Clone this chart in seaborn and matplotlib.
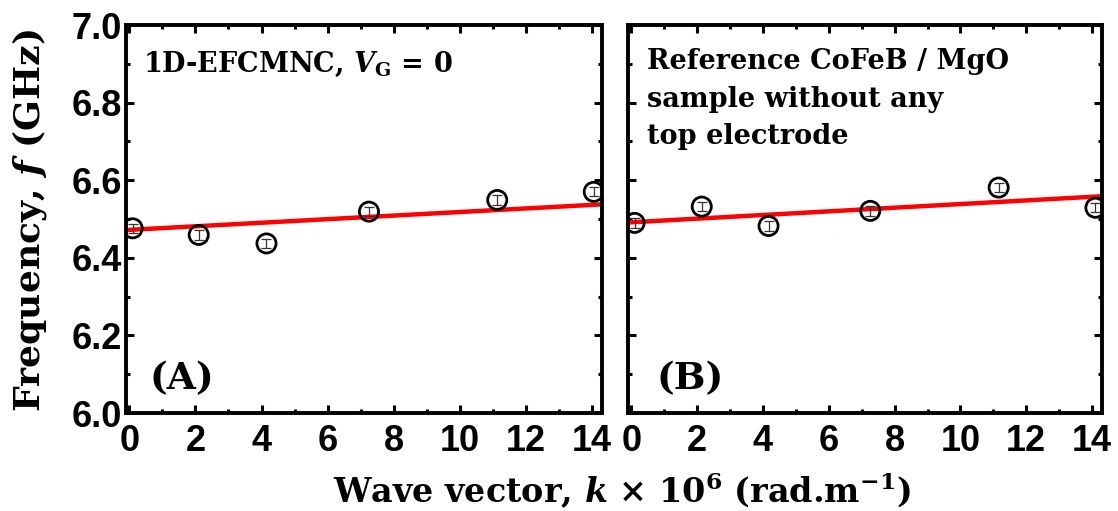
import numpy as np
import pandas as pd
import matplotlib
matplotlib.use("Agg")
import matplotlib.pyplot as plt
import seaborn as sns
from matplotlib.ticker import MultipleLocator

# ---- data ----
k_A = [0.1, 2.1, 4.15, 7.25, 11.13, 14.05]
f_A = [6.476, 6.459, 6.437, 6.519, 6.549, 6.570]
err_A = [0.012, 0.012, 0.012, 0.012, 0.012, 0.012]
fit_A = [6.472, 0.0046]   # intercept, slope

k_B = [0.1, 2.14, 4.17, 7.26, 11.16, 14.1]
f_B = [6.490, 6.532, 6.482, 6.521, 6.581, 6.529]
err_B = [0.012, 0.012, 0.012, 0.012, 0.012, 0.012]
fit_B = [6.4915, 0.0047]

x_ticks = [0, 2, 4, 6, 8, 10, 12, 14]
y_ticks = [6.0, 6.2, 6.4, 6.6, 6.8, 7.0]

sns.set_theme(style="ticks")
plt.rcParams['font.family'] = ['Liberation Sans', 'DejaVu Sans']
plt.rcParams['text.color'] = 'black'
plt.rcParams['xtick.color'] = 'black'
plt.rcParams['ytick.color'] = 'black'
plt.rcParams['xtick.labelcolor'] = 'black'
plt.rcParams['ytick.labelcolor'] = 'black'
plt.rcParams['mathtext.fontset'] = 'custom'
plt.rcParams['mathtext.rm'] = 'DejaVu Serif:bold'
plt.rcParams['mathtext.it'] = 'DejaVu Serif:bold:italic'
plt.rcParams['mathtext.bf'] = 'DejaVu Serif:bold'

W, H = 1118, 511
fig = plt.figure(figsize=(W / 100, H / 100), dpi=100)
axA = fig.add_axes([126 / W, 1 - 413 / H, (602 - 126) / W, (413 - 25) / H])
axB = fig.add_axes([628 / W, 1 - 413 / H, (1102 - 628) / W, (413 - 25) / H])

serif = 'DejaVu Serif'

def draw(ax, k, f, err, fit, show_ylabels):
    df = pd.DataFrame({"k": k, "f": f})
    xs = np.array([-0.1, 14.3])
    dfl = pd.DataFrame({"k": xs, "f": fit[0] + fit[1] * xs})
    sns.lineplot(data=dfl, x="k", y="f", ax=ax, color="#ff0000", linewidth=3.2, zorder=2)
    ax.errorbar(k, f, yerr=err, fmt="none", ecolor="#333333", elinewidth=0.9,
                capsize=3.5, capthick=0.9, zorder=3)
    sns.scatterplot(data=df, x="k", y="f", ax=ax, marker="o", s=190,
                    facecolor="none", edgecolor="black", linewidth=2.0, zorder=4)
    ax.set_xlim(-0.1, 14.3)
    ax.set_ylim(6.0, 7.0)
    ax.set_xticks(x_ticks)
    ax.set_yticks(y_ticks)
    ax.xaxis.set_minor_locator(MultipleLocator(1))
    ax.yaxis.set_minor_locator(MultipleLocator(0.1))
    ax.tick_params(which="both", direction="in", top=True, right=True, width=2.2,
                   color="black")
    ax.tick_params(which="major", length=6, labelsize=26, pad=3)
    ax.tick_params(axis="x", which="major", pad=8)
    ax.tick_params(which="minor", length=3)
    ax.set_yticklabels([f"{v:.1f}" for v in y_ticks], fontweight="bold", color="black")
    ax.set_xticklabels([str(v) for v in x_ticks], fontweight="bold", color="black")
    if not show_ylabels:
        ax.tick_params(axis="y", labelleft=False)
    for s in ax.spines.values():
        s.set_linewidth(2.8)
        s.set_color("black")
    ax.set_xlabel("")
    ax.set_ylabel("")

draw(axA, k_A, f_A, err_A, fit_A, True)
draw(axB, k_B, f_B, err_B, fit_B, False)

axA.text(0.035, 0.935, r"1D-EFCMNC, $\mathit{V}_{\mathrm{G}}$ = 0", transform=axA.transAxes,
         family=serif, fontweight="bold", fontsize=19.5, va="top", ha="left", color="black")
axA.text(0.05, 0.04, "(A)", transform=axA.transAxes, family=serif,
         fontweight="bold", fontsize=27, va="bottom", ha="left", color="black")
axB.text(0.04, 0.94, "Reference CoFeB / MgO\nsample without any\ntop electrode",
         transform=axB.transAxes, family=serif, fontweight="bold", fontsize=19.5,
         va="top", ha="left", linespacing=1.5, color="black")
axB.text(0.06, 0.04, "(B)", transform=axB.transAxes, family=serif,
         fontweight="bold", fontsize=27, va="bottom", ha="left", color="black")

fig.text(30 / W, 1 - 220 / H, r"Frequency, $\mathit{f}$ (GHz)", rotation=90,
         family=serif, fontweight="bold", fontsize=26, ha="center", va="center", color="black")
fig.text(622 / W, 1 - 490 / H, r"Wave vector, $\mathit{k}$ × 10$^{6}$ (rad.m$^{\mathrm{-1}}$)",
         family=serif, fontweight="bold", fontsize=24, ha="center", va="center", color="black")

fig.savefig("out.png", dpi=100)
